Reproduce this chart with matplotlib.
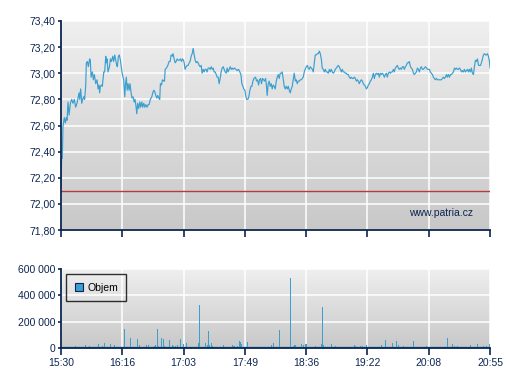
import numpy as np
import matplotlib
matplotlib.use("Agg")
import matplotlib.pyplot as plt
from matplotlib.colors import LinearSegmentedColormap
from matplotlib.ticker import FuncFormatter

# minutes after 15:30
price_minutes = [
    0.0, 0.5, 1.0, 1.5, 2.5, 3.3, 4.0, 4.6, 5.3, 6.1, 7.1, 8.1, 9.1, 10.1, 11.1, 12.1, 13.1, 13.7, 14.2, 14.9,
    15.7, 16.4, 17.2, 17.9, 18.7, 19.2, 20.0, 20.7, 21.7, 22.2, 22.8, 23.8, 24.5, 25.3, 26.3, 27.3, 28.1, 28.8,
    29.3, 29.8, 30.8, 31.3, 32.4, 33.1, 33.9, 34.4, 34.9, 35.6, 36.7, 37.4, 38.2, 39.2, 39.9, 40.7, 41.5, 42.2,
    42.7, 43.5, 44.2, 45.0, 45.5, 46.5, 47.5, 48.3, 48.8, 49.5, 50.1, 50.8, 51.6, 52.3, 53.1, 53.8, 54.6, 55.4,
    56.1, 56.9, 57.4, 58.1, 58.9, 59.7, 60.4, 61.2, 61.9, 62.7, 63.5, 64.2, 65.2, 66.0, 66.7, 67.7, 68.8, 69.5,
    70.3, 71.0, 71.8, 72.6, 73.3, 74.1, 74.8, 75.3, 76.1, 76.9, 77.9, 78.4, 78.9, 79.9, 80.9, 81.9, 82.7, 83.4,
    84.2, 84.9, 85.7, 86.5, 87.2, 88.0, 88.7, 89.7, 90.5, 91.3, 92.0, 92.8, 93.3, 94.0, 94.8, 95.6, 96.3, 97.1,
    97.8, 98.6, 99.4, 100.1, 100.9, 101.6, 102.4, 103.1, 103.9, 104.7, 105.4, 106.2, 106.9, 107.7, 108.5, 109.2,
    110.0, 110.7, 111.5, 112.3, 113.0, 113.8, 114.5, 115.3, 116.0, 116.8, 117.6, 118.3, 119.1, 119.8, 120.6,
    121.3, 122.1, 122.9, 123.6, 124.4, 125.1, 125.9, 126.6, 127.4, 128.2, 128.9, 129.7, 130.4, 131.5, 132.5,
    133.5, 134.5, 135.5, 136.3, 137.0, 137.8, 138.5, 139.3, 140.1, 140.8, 141.6, 142.3, 143.1, 143.9, 144.6,
    145.4, 146.1, 147.4, 148.1, 148.9, 149.7, 150.4, 151.2, 151.9, 152.7, 153.5, 154.2, 155.0, 155.7, 156.2,
    157.0, 157.7, 158.5, 159.3, 160.0, 160.8, 161.5, 162.3, 163.1, 163.8, 164.6, 165.3, 166.1, 166.8, 167.6,
    168.4, 169.1, 169.9, 170.6, 171.4, 172.2, 172.9, 173.7, 174.4, 175.2, 175.9, 176.7, 177.5, 178.2, 179.0,
    179.7, 180.5, 181.3, 182.0, 182.8, 183.5, 184.3, 185.0, 185.8, 186.6, 187.3, 188.1, 188.8, 189.6, 190.4,
    191.1, 191.9, 192.6, 193.4, 194.2, 194.9, 195.7, 196.4, 197.2, 197.9, 198.7, 199.5, 200.2, 201.0, 201.7,
    202.5, 203.3, 204.0, 204.8, 205.5, 206.3, 207.0, 207.8, 208.6, 209.3, 210.1, 210.8, 211.6, 212.4, 213.1,
    213.9, 214.6, 215.4, 216.1, 216.9, 217.7, 218.4, 219.2, 219.9, 220.7, 221.5, 222.2, 223.0, 223.7, 224.5,
    225.2, 226.0, 226.8, 227.5, 228.3, 229.0, 229.8, 230.6, 231.3, 232.1, 232.8, 233.6, 234.4, 235.1, 235.9,
    236.6, 237.4, 238.1, 238.9, 239.7, 240.4, 241.2, 241.9, 242.7, 243.4, 244.2, 245.0, 245.7, 246.5, 247.2,
    248.0, 248.8, 249.5, 250.3, 251.0, 251.8, 252.5, 253.3, 254.1, 254.8, 255.6, 256.3, 257.1, 257.9, 258.6,
    259.4, 260.1, 260.9, 261.6, 262.4, 263.2, 263.9, 264.7, 265.4, 266.2, 267.0, 267.7, 268.5, 269.2, 270.0,
    270.7, 271.5, 272.3, 273.0, 273.8, 274.5, 275.3, 276.1, 276.8, 277.6, 278.3, 279.1, 279.8, 280.6, 281.4,
    282.1, 282.9, 283.6, 284.4, 285.2, 285.9, 286.7, 287.4, 288.2, 288.9, 289.7, 290.5, 291.2, 292.0, 292.7,
    293.5, 294.3, 295.0, 295.8, 296.5, 297.3, 298.1, 298.8, 299.6, 300.3, 301.1, 301.8, 302.6, 303.4, 304.1,
    304.9, 305.6, 306.4, 307.2, 307.9, 308.7, 309.4, 310.2, 310.9, 311.7, 312.5, 313.2, 314.0, 314.7, 315.5,
    316.3, 317.0, 317.8, 318.5, 319.3, 320.0, 320.8, 321.6, 322.3, 323.1, 323.8, 324.6, 325.0,
]
prices = [
    72.13, 72.36, 72.35, 72.59, 72.66, 72.62, 72.66, 72.64, 72.78, 72.68, 72.77, 72.80, 72.77, 72.80, 72.74,
    72.77, 72.82, 72.85, 72.80, 72.88, 72.77, 72.80, 72.82, 72.80, 72.90, 73.08, 73.09, 73.05, 73.11, 73.10,
    72.97, 73.01, 72.95, 72.99, 72.92, 72.95, 72.88, 72.91, 72.85, 72.90, 72.91, 72.90, 73.01, 73.01, 73.13,
    73.08, 73.11, 73.01, 73.05, 73.11, 73.09, 73.13, 73.09, 73.14, 73.10, 73.06, 73.05, 73.13, 73.14, 73.10,
    73.06, 72.99, 72.95, 72.82, 72.91, 72.97, 72.87, 72.92, 72.87, 72.92, 72.85, 72.81, 72.82, 72.78, 72.80,
    72.74, 72.69, 72.77, 72.73, 72.78, 72.74, 72.78, 72.74, 72.77, 72.74, 72.76, 72.74, 72.76, 72.76, 72.80,
    72.82, 72.85, 72.87, 72.86, 72.83, 72.81, 72.83, 72.81, 72.80, 72.92, 72.91, 72.95, 72.94, 72.94, 73.03,
    73.04, 73.06, 73.09, 73.09, 73.14, 73.13, 73.15, 73.11, 73.08, 73.09, 73.11, 73.10, 73.10, 73.11, 73.09,
    73.11, 73.10, 73.08, 73.03, 73.05, 73.06, 73.06, 73.08, 73.09, 73.13, 73.15, 73.19, 73.14, 73.10, 73.08,
    73.09, 73.08, 73.06, 73.05, 73.06, 73.00, 73.03, 73.01, 73.03, 73.03, 73.01, 73.04, 73.04, 73.03, 73.05,
    73.03, 73.04, 73.01, 73.01, 72.99, 72.97, 72.97, 72.92, 72.96, 73.01, 73.04, 73.05, 73.03, 73.01, 73.00,
    73.04, 73.01, 73.03, 73.05, 73.03, 73.04, 73.03, 73.04, 73.03, 73.02, 73.03, 73.01, 72.99, 72.92, 72.90,
    72.88, 72.87, 72.82, 72.80, 72.80, 72.82, 72.87, 72.90, 72.90, 72.94, 72.96, 72.97, 72.94, 72.95, 72.91,
    72.95, 72.96, 72.92, 72.96, 72.95, 72.94, 72.96, 72.90, 72.83, 72.92, 72.94, 72.90, 72.92, 72.88, 72.91,
    72.90, 72.88, 72.94, 72.97, 72.99, 72.96, 73.00, 73.00, 73.01, 72.95, 72.90, 72.88, 72.90, 72.88, 72.90,
    72.87, 72.85, 72.88, 72.90, 72.95, 73.00, 72.94, 72.95, 72.92, 72.94, 72.94, 72.95, 72.95, 72.96, 72.97,
    73.01, 73.03, 73.05, 73.06, 73.04, 73.03, 73.05, 73.04, 73.03, 73.01, 73.08, 73.14, 73.14, 73.15, 73.15,
    73.17, 73.15, 73.11, 73.04, 73.03, 73.01, 73.03, 73.01, 73.01, 73.00, 73.03, 73.01, 73.03, 73.01, 73.00,
    73.01, 73.03, 73.04, 73.05, 73.06, 73.05, 73.03, 73.01, 73.03, 73.01, 73.01, 73.00, 73.00, 72.99, 72.99,
    72.97, 72.96, 72.97, 72.96, 72.96, 72.97, 72.96, 72.94, 72.95, 72.94, 72.92, 72.94, 72.95, 72.94, 72.92,
    72.91, 72.90, 72.88, 72.89, 72.91, 72.92, 72.94, 72.95, 72.97, 73.00, 72.96, 72.99, 73.00, 72.99, 73.00,
    72.97, 73.00, 72.99, 73.00, 72.99, 72.97, 72.99, 73.00, 72.97, 73.00, 73.01, 73.00, 73.01, 73.01, 73.03,
    73.01, 73.04, 73.05, 73.06, 73.04, 73.03, 73.04, 73.03, 73.05, 73.05, 73.03, 73.05, 73.06, 73.08, 73.08,
    73.09, 73.05, 73.04, 73.03, 73.00, 72.99, 73.00, 73.01, 73.04, 73.03, 73.01, 73.04, 73.05, 73.03, 73.03,
    73.04, 73.05, 73.04, 73.03, 73.03, 73.03, 73.01, 73.00, 72.99, 72.97, 72.96, 72.95, 72.96, 72.95, 72.95,
    72.95, 72.95, 72.95, 72.96, 72.97, 72.96, 72.97, 72.99, 72.97, 72.99, 72.97, 72.99, 72.99, 73.00, 73.01,
    73.04, 73.03, 73.04, 73.03, 73.03, 73.04, 73.03, 73.01, 73.02, 73.01, 73.03, 73.01, 73.02, 73.03, 73.01,
    73.03, 73.01, 73.04, 73.00, 72.99, 73.05, 73.10, 73.09, 73.11, 73.06, 73.06, 73.06, 73.08, 73.11, 73.14,
    73.15, 73.14, 73.14, 73.15, 73.13, 73.09, 73.04,
]

volume_minutes = [
    0.8, 1.5, 4.6, 7.6, 8.3, 9.6, 10.9, 13.9, 18.5, 19.7, 21.7, 22.8, 24.8, 26.0, 28.6, 31.1, 32.9, 34.9, 37.4,
    40.7, 42.0, 43.0, 44.2, 45.8, 48.3, 49.5, 52.8, 55.1, 58.1, 59.7, 61.4, 64.5, 66.0, 67.2, 69.0, 70.8, 71.5,
    73.3, 74.1, 76.3, 77.9, 78.6, 80.4, 82.2, 84.2, 85.4, 86.7, 88.0, 89.7, 90.8, 92.5, 93.8, 95.1, 97.6, 101.4,
    104.4, 105.2, 106.2, 108.7, 109.5, 110.7, 111.5, 112.2, 113.8, 114.5, 116.3, 117.8, 119.6, 121.3, 122.9,
    124.6, 128.4, 130.2, 131.0, 131.7, 134.0, 135.0, 135.8, 136.5, 137.5, 141.1, 142.3, 146.1, 148.6,
    159.5, 161.3, 165.8, 167.6, 168.9, 171.4, 174.2, 175.9, 177.0, 177.7, 182.3, 183.5, 185.0, 186.1, 189.1,
    192.4, 193.1, 194.9, 196.2, 197.2, 197.9, 198.4, 199.2, 200.0, 203.3, 205.0, 208.1, 209.1, 210.6, 213.1,
    215.1, 216.4, 222.0, 223.0, 225.0, 227.0, 228.5, 231.6, 232.6, 237.1, 240.2, 242.9, 244.7, 246.0, 247.7,
    250.8, 254.3, 255.6, 259.4, 262.4, 264.9, 266.7, 268.0, 270.7, 273.5, 276.8, 278.1, 287.2, 292.5, 296.8,
    297.8, 300.3, 304.6, 305.9, 308.4, 310.4, 311.7, 315.5, 316.8, 320.0, 322.1, 324.6,
]
volumes = [
    5000, 5000, 3000, 8000, 8000, 8000, 15000, 5000, 20000, 10000, 12000, 8000, 8000, 8000, 28000, 15000, 35000,
    5000, 28000, 20000, 10000, 8000, 8000, 8000, 142000, 8000, 74000, 8000, 66000, 25000, 10000, 25000, 25000,
    10000, 10000, 18000, 20000, 142000, 12000, 74000, 66000, 18000, 8000, 58000, 20000, 18000, 18000, 20000,
    10000, 71000, 30000, 8000, 41000, 10000, 10000, 41000, 325000, 8000, 8000, 35000, 20000, 127000, 20000,
    41000, 12000, 10000, 10000, 8000, 8000, 25000, 8000, 8000, 20000, 15000, 12000, 15000, 51000, 43000, 30000,
    10000, 43000, 8000, 8000, 8000,
    20000, 35000, 135000, 10000, 8000, 8000, 531000, 18000, 25000, 25000, 33000, 23000, 33000, 33000, 8000,
    58000, 18000, 8000, 12000, 33000, 48000, 310000, 25000, 74000, 8000, 33000, 12000, 51000, 8000, 8000, 8000,
    8000, 25000, 12000, 33000, 15000, 12000, 23000, 41000, 18000, 10000, 25000, 142000, 58000, 18000, 35000,
    51000, 20000, 12000, 8000, 10000, 51000, 8000, 8000, 8000, 15000, 8000, 10000, 74000, 33000, 18000, 18000,
    10000, 10000, 10000, 20000, 10000, 33000, 10000, 18000, 18000, 33000,
]

time_labels = ["15:30", "16:16", "17:03", "17:49", "18:36", "19:22", "20:08", "20:55"]
total_minutes = 325
reference_price = 72.10

line_color = "#3b9fd0"
text_color = "#0c2552"
plt.rcParams["font.family"] = ["Liberation Sans", "DejaVu Sans"]
plt.rcParams["font.size"] = 7.5

figure = plt.figure(figsize=(5.07, 3.80), dpi=100)
price_axis = figure.add_axes([61 / 507, 1 - 230 / 380, 429 / 507, 209 / 380])
volume_axis = figure.add_axes([61 / 507, 1 - 348 / 380, 429 / 507, 79 / 380])

gradient = LinearSegmentedColormap.from_list("bg", ["#efefef", "#c8c8c8"])
tick_positions = np.linspace(0, total_minutes, len(time_labels))


def style_axis(axis):
    axis.imshow(
        np.linspace(0, 1, 256).reshape(-1, 1),
        extent=[0, 1, 0, 1],
        transform=axis.transAxes,
        cmap=gradient,
        aspect="auto",
        zorder=0,
    )
    axis.set_axisbelow(True)
    axis.grid(color="white", linewidth=1.1)
    for side in ["top", "right"]:
        axis.spines[side].set_visible(False)
    for side in ["left", "bottom"]:
        axis.spines[side].set_color(text_color)
        axis.spines[side].set_linewidth(1.3)
        axis.spines[side].set_zorder(5)
    axis.tick_params(colors=text_color, width=1.2, labelcolor=text_color)
    axis.tick_params(axis="y", length=2, pad=2)
    axis.tick_params(axis="x", length=5, pad=2)
    axis.set_xticks(tick_positions)
    axis.set_xlim(0, total_minutes)


style_axis(price_axis)
price_axis.plot(price_minutes, prices, color=line_color, linewidth=0.85, zorder=3)
price_axis.axhline(reference_price, color="#b83a3a", linewidth=1.0, zorder=2)
price_axis.set_ylim(71.8, 73.4)
price_axis.set_yticks(np.arange(71.8, 73.41, 0.2))
price_axis.yaxis.set_major_formatter(FuncFormatter(lambda v, _: f"{v:.2f}".replace(".", ",")))
price_axis.set_xticklabels([])
price_axis.set_xlim(0, total_minutes)
price_axis.text(0.96, 0.08, "www.patria.cz", transform=price_axis.transAxes,
                ha="right", va="center", color=text_color, fontsize=7.5, zorder=4)

style_axis(volume_axis)
volume_axis.bar(volume_minutes, volumes, width=0.7, color=line_color, label="Objem", zorder=3)
volume_axis.axhline(0, color=line_color, linewidth=2.5, zorder=2)
volume_axis.set_ylim(0, 600000)
volume_axis.set_yticks([0, 200000, 400000, 600000])
volume_axis.yaxis.set_major_formatter(FuncFormatter(lambda v, _: f"{int(v):,}".replace(",", " ")))
volume_axis.set_xticklabels(time_labels)
volume_axis.set_xlim(0, total_minutes)
legend = volume_axis.legend(
    loc="upper left", bbox_to_anchor=(0.0, 1.0), frameon=True, fancybox=False,
    handlelength=0.8, handleheight=0.8, borderpad=0.8, handletextpad=0.4, fontsize=7.5,
)
legend.get_frame().set_edgecolor("black")
legend.get_frame().set_facecolor("none")
legend.get_frame().set_linewidth(1.0)
for handle in legend.legend_handles:
    handle.set_edgecolor(text_color)
    handle.set_linewidth(0.8)

figure.savefig("out.png", dpi=100)
plt.close(figure)
